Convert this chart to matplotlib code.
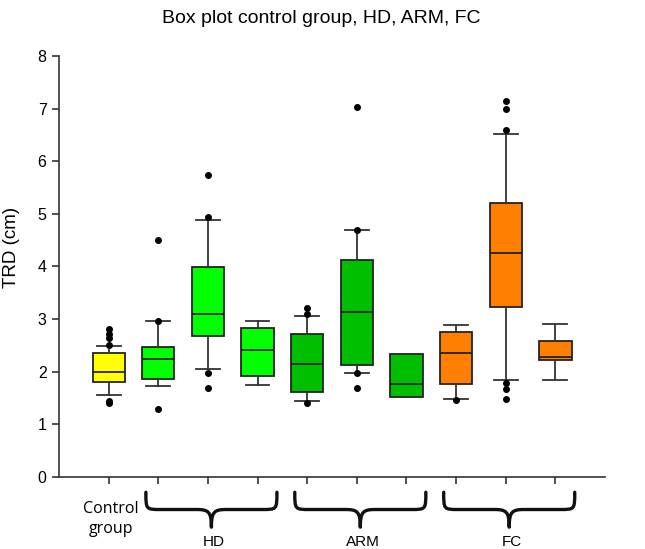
import matplotlib
matplotlib.use("Agg")
import matplotlib.pyplot as plt
from matplotlib.path import Path
from matplotlib.patches import PathPatch
from matplotlib.transforms import blended_transform_factory

# ---- data ----
positions = [1, 2, 3, 4, 5, 6, 7, 8, 9, 10]
medians = [2.00, 2.24, 3.10, 2.40, 2.14, 3.13, 1.76, 2.35, 4.26, 2.28]
q1 = [1.81, 1.86, 2.67, 1.91, 1.62, 2.12, 1.52, 1.76, 3.23, 2.21]
q3 = [2.35, 2.47, 3.99, 2.83, 2.71, 4.13, 2.33, 2.76, 5.20, 2.58]
whislo = [1.56, 1.73, 2.05, 1.74, 1.44, 1.98, 1.51, 1.47, 1.84, 1.83]
whishi = [2.48, 2.96, 4.88, 2.97, 3.06, 4.70, 2.33, 2.88, 6.52, 2.90]
fliers = [
    [1.44, 1.40, 2.50, 2.63, 2.72, 2.80],
    [1.28, 2.96, 4.50],
    [1.68, 1.97, 4.94, 5.74],
    [],
    [1.41, 3.09, 3.20],
    [1.69, 1.98, 4.70, 7.03],
    [],
    [1.46],
    [1.48, 1.66, 1.78, 6.59, 7.00, 7.14],
    [],
]
box_colors = ["#FFFF00", "#00FF00", "#00FF00", "#00FF00",
              "#00BF00", "#00BF00", "#00BF00",
              "#FF8000", "#FF8000", "#FF8000"]
group_labels = ["HD", "ARM", "FC"]
group_centers = [3, 6, 9]
control_label = "Control\ngroup"
title = "Box plot control group, HD, ARM, FC"
ylabel = "TRD (cm)"
yticks = [0, 1, 2, 3, 4, 5, 6, 7, 8]

# ---- figure ----
fig = plt.figure(figsize=(6.45, 5.49), dpi=100)
ax = fig.add_axes([0.0915, 0.1317, 0.8465, 0.7663])

stats = []
for i in range(len(positions)):
    stats.append(dict(med=medians[i], q1=q1[i], q3=q3[i],
                      whislo=whislo[i], whishi=whishi[i], fliers=fliers[i]))

line_col = "#333333"
bp = ax.bxp(stats, positions=positions, widths=0.65, capwidths=0.48,
            patch_artist=True, showfliers=True,
            boxprops=dict(edgecolor="#222222", linewidth=1.3),
            medianprops=dict(color="#222222", linewidth=1.3),
            whiskerprops=dict(color=line_col, linewidth=1.3),
            capprops=dict(color=line_col, linewidth=1.3),
            flierprops=dict(marker="o", markerfacecolor="black",
                            markeredgecolor="black", markersize=4))
for patch, c in zip(bp["boxes"], box_colors):
    patch.set_facecolor(c)

ax.set_xlim(0, 11)
ax.set_ylim(0, 8)
ax.set_yticks(yticks)
ax.set_yticklabels([str(t) for t in yticks], fontfamily="Liberation Sans", fontsize=11.5)
ax.set_xticks(positions)
ax.set_xticklabels([])
ax.tick_params(axis="both", direction="out", length=5, width=1.2, color="#333333")
ax.tick_params(axis="y", pad=4)
for s in ["top", "right"]:
    ax.spines[s].set_visible(False)
for s in ["left", "bottom"]:
    ax.spines[s].set_color("#333333")
    ax.spines[s].set_linewidth(1.2)

fig.text(0.498, 0.967, title, ha="center", va="center",
         fontfamily="Liberation Sans", fontsize=14)
fig.text(0.018, 0.55, ylabel, ha="center", va="center", rotation=90,
         fontfamily="Liberation Sans", fontsize=13.5)

# ---- braces under the groups ----
trans = blended_transform_factory(ax.transData, ax.transAxes)
ytop, ymid, ytip = -0.037, -0.078, -0.12
half = 1.32
r = 0.3
for xc, lab in zip(group_centers, group_labels):
    x0, x1 = xc + 0.07 - half, xc + 0.07 + half
    xm = xc + 0.07
    verts = [
        (x0, ytop),
        (x0, ymid), (x0, ymid), (x0 + r, ymid),
        (xm - r, ymid),
        (xm - r * 0.2, ymid), (xm, ymid - 0.005), (xm, ytip),
        (xm, ymid - 0.005), (xm + r * 0.2, ymid), (xm + r, ymid),
        (x1 - r, ymid),
        (x1, ymid), (x1, ymid), (x1, ytop),
    ]
    codes = [Path.MOVETO,
             Path.CURVE4, Path.CURVE4, Path.CURVE4,
             Path.LINETO,
             Path.CURVE4, Path.CURVE4, Path.CURVE4,
             Path.CURVE4, Path.CURVE4, Path.CURVE4,
             Path.LINETO,
             Path.CURVE4, Path.CURVE4, Path.CURVE4]
    patch = PathPatch(Path(verts, codes), facecolor="none", edgecolor="#111111",
                      linewidth=2.4, transform=trans, clip_on=False,
                      capstyle="round", joinstyle="round")
    ax.add_patch(patch)
    ax.text(xc + 0.12, -0.155, lab, transform=trans, ha="center", va="center",
            fontfamily="Liberation Sans", fontsize=11)

ax.text(1.05, -0.10, control_label, transform=trans, ha="center", va="center",
        fontfamily="Open Sans", fontsize=11.5, linespacing=1.35)

fig.savefig("out.png", dpi=100)
